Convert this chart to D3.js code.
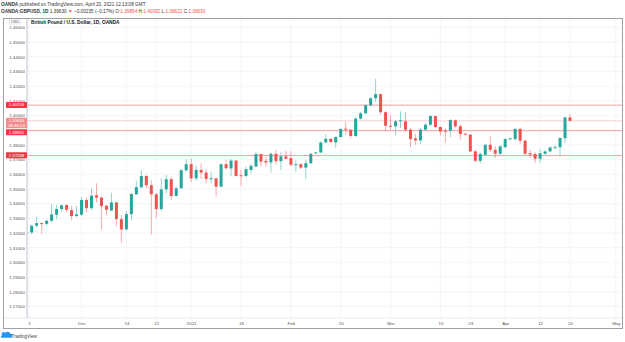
<!DOCTYPE html>
<html><head><meta charset="utf-8">
<script src="https://cdn.jsdelivr.net/npm/d3@7/dist/d3.min.js"></script>
<style>
html,body{margin:0;padding:0;background:#fff;}
svg{display:block;font-family:"Liberation Sans",Arial,sans-serif;}
</style></head>
<body><svg id="c" width="625" height="342"></svg>
<script>
// ---- data (daily OHLC, GBP/USD, OANDA) ----
const opens = [1.3198,1.3203,1.3249,1.3267,1.3262,1.3283,1.3324,1.3363,1.3390,1.3356,
1.3315,1.3324,1.3424,1.3369,1.3456,1.3442,1.3385,1.3353,1.3408,1.3294,
1.3224,1.3328,1.3463,1.3511,1.3588,1.3525,1.3463,1.3363,1.3497,1.3566,
1.3452,1.3504,1.3627,1.3668,1.3572,1.3629,1.3611,1.3566,1.3572,1.3515,
1.3668,1.3639,1.3693,1.3593,1.3588,1.3629,1.3652,1.3737,1.3691,1.3680,
1.3739,1.3689,1.3721,1.3709,1.3664,1.3668,1.3645,1.3675,1.3741,1.3748,
1.3816,1.3841,1.3816,1.3853,1.3910,1.3903,1.3860,1.3978,1.4015,1.4069,
1.4117,1.4145,1.4022,1.3930,1.3926,1.3963,1.3960,1.3903,1.3844,1.3830,
1.3903,1.3937,1.3996,1.3921,1.3896,1.3896,1.3967,1.3926,1.3876,1.3869,
1.3755,1.3691,1.3732,1.3800,1.3766,1.3739,1.3784,1.3839,1.3839,1.3908,
1.3828,1.3743,1.3737,1.3705,1.3739,1.3755,1.3782,1.3784,1.3846,1.39864];
const highs = [1.3212,1.3258,1.3312,1.3268,1.3292,1.3397,1.3390,1.3395,1.3395,1.3383,
1.3383,1.3445,1.3440,1.3504,1.3538,1.3442,1.3390,1.3474,1.3410,1.3322,
1.3349,1.3470,1.3556,1.3627,1.3593,1.3558,1.3470,1.3572,1.3595,1.3584,
1.3515,1.3634,1.3700,1.3705,1.3659,1.3673,1.3636,1.3618,1.3575,1.3670,
1.3698,1.3702,1.3695,1.3629,1.3652,1.3670,1.3753,1.3740,1.3714,1.3748,
1.3762,1.3750,1.3759,1.3759,1.3698,1.3675,1.3698,1.3743,1.3752,1.3825,
1.3869,1.3843,1.3857,1.3912,1.3955,1.3905,1.3992,1.4024,1.4074,1.4126,
1.4250,1.4147,1.4028,1.4001,1.3971,1.4028,1.4024,1.3914,1.3873,1.3914,
1.3949,1.4001,1.4001,1.3926,1.3914,1.3974,1.3971,1.3937,1.3880,1.3873,
1.3766,1.3750,1.3805,1.3857,1.3789,1.3800,1.3846,1.3850,1.3914,1.3919,
1.3835,1.3766,1.3750,1.3771,1.3766,1.3789,1.3800,1.3851,1.3994,1.40092];
const lows = [1.3190,1.3189,1.3240,1.3194,1.3249,1.3271,1.3294,1.3344,1.3340,1.3285,
1.3308,1.3317,1.3340,1.3356,1.3408,1.3224,1.3319,1.3351,1.3246,1.3135,
1.3219,1.3287,1.3458,1.3504,1.3504,1.3189,1.3303,1.3349,1.3470,1.3424,
1.3447,1.3499,1.3618,1.3545,1.3554,1.3568,1.3538,1.3538,1.3447,1.3511,
1.3629,1.3588,1.3584,1.3520,1.3579,1.3607,1.3648,1.3652,1.3652,1.3611,
1.3666,1.3629,1.3702,1.3657,1.3618,1.3634,1.3566,1.3670,1.3736,1.3743,
1.3812,1.3812,1.3778,1.3848,1.3869,1.3846,1.3851,1.3971,1.4006,1.4063,
1.4090,1.4005,1.3892,1.3903,1.3864,1.3914,1.3891,1.3782,1.3800,1.3805,
1.3896,1.3930,1.3914,1.3864,1.3812,1.3853,1.3914,1.3835,1.3862,1.3752,
1.3682,1.3675,1.3727,1.3750,1.3709,1.3732,1.3778,1.3834,1.3828,1.3805,
1.3732,1.3709,1.3675,1.3675,1.3732,1.3750,1.3773,1.3721,1.3812,1.39622];
const closes = [1.3205,1.3249,1.3267,1.3262,1.3283,1.3326,1.3363,1.3388,1.3358,1.3315,
1.3326,1.3424,1.3369,1.3454,1.3440,1.3383,1.3358,1.3408,1.3294,1.3224,
1.3328,1.3465,1.3511,1.3588,1.3525,1.3463,1.3363,1.3497,1.3566,1.3452,
1.3504,1.3627,1.3668,1.3572,1.3629,1.3611,1.3568,1.3572,1.3515,1.3668,
1.3641,1.3693,1.3588,1.3586,1.3634,1.3657,1.3737,1.3686,1.3680,1.3739,
1.3689,1.3721,1.3705,1.3664,1.3668,1.3645,1.3675,1.3739,1.3748,1.3816,
1.3841,1.3819,1.3853,1.3908,1.3903,1.3860,1.3978,1.4015,1.4069,1.4117,
1.4145,1.4022,1.3930,1.3924,1.3960,1.3967,1.3903,1.3839,1.3830,1.3903,
1.3937,1.3996,1.3921,1.3891,1.3891,1.3969,1.3926,1.3873,1.3869,1.3755,
1.3691,1.3737,1.3800,1.3766,1.3739,1.3789,1.3839,1.3844,1.3908,1.3828,
1.3739,1.3734,1.3705,1.3743,1.3755,1.3782,1.3784,1.3846,1.39865,1.39630];

const priceTicks = [1.27,1.28,1.29,1.30,1.31,1.32,1.33,1.34,1.35,1.36,1.37,1.38,1.39,1.40,1.41,1.42,1.43,1.44,1.45,1.46];
const timeTickIndex = [0.45,11,20,26,33,43,53,63,73,83,89,96,103,109,118.2];
const timeTickLabels = ["1","Dec","14","22","2021","18","Feb","15","Mar","15","23","Apr","12","20","May"];
const levelLines = [1.40703,1.38962,1.37268];
const lastPrice = 1.39630;
const countdown = "08:46:53";

// ---- layout ----
const svg = d3.select("#c");
const plotL = 27, plotR = 622, plotT = 18.5, plotB = 318;
const x = d3.scaleLinear().domain([0,109]).range([26.7,570]);
const y = d3.scaleLinear().domain([1.27,1.46]).range([306.4,27.3]);
const GREEN = "#26a69a", RED = "#ef5350";
const candles = opens.map((o,i)=>({i,o,h:highs[i],l:lows[i],c:closes[i]}));

// header
const hdr = svg.append("g").attr("font-size",4.7).attr("fill","#333");
const t1 = hdr.append("text").attr("x",1).attr("y",5.5);
t1.append("tspan").attr("font-weight","bold").text("OANDA");
t1.append("tspan").text(" published on TradingView.com, April 20, 2021 12:13:08 GMT");
const t2 = hdr.append("text").attr("x",1).attr("y",12.5);
t2.append("tspan").attr("font-weight","bold").text("OANDA:GBPUSD, 1D");
t2.append("tspan").text("  1.39630 ");
t2.append("tspan").attr("fill",RED).text("▼");
t2.append("tspan").text(" −0.00235 (−0.17%) O:");
t2.append("tspan").attr("fill",RED).text("1.39864");
t2.append("tspan").text(" H:");
t2.append("tspan").attr("fill",RED).text("1.40092");
t2.append("tspan").text(" L:");
t2.append("tspan").attr("fill",RED).text("1.39622");
t2.append("tspan").text(" C:");
t2.append("tspan").attr("fill",RED).text("1.39630");

// clip
svg.append("clipPath").attr("id","plot").append("rect")
  .attr("x",plotL+0.5).attr("y",plotT).attr("width",plotR-plotL-0.5).attr("height",plotB-plotT);

// grid
const grid = svg.append("g").attr("clip-path","url(#plot)");
grid.selectAll("line.h").data(priceTicks).join("line")
  .attr("x1",plotL).attr("x2",plotR).attr("y1",d=>y(d)).attr("y2",d=>y(d))
  .attr("stroke","#f0f3fa").attr("stroke-width",0.8);
grid.selectAll("line.v").data(timeTickIndex).join("line")
  .attr("x1",d=>x(d)).attr("x2",d=>x(d)).attr("y1",plotT).attr("y2",plotB)
  .attr("stroke","#f0f3fa").attr("stroke-width",0.8);

// level lines
const plot = svg.append("g").attr("clip-path","url(#plot)");
plot.append("line").attr("x1",plotL).attr("x2",plotR).attr("y1",y(lastPrice)).attr("y2",y(lastPrice))
  .attr("stroke","#f9c4c4").attr("stroke-width",0.8);
plot.selectAll("line.lvl").data(levelLines).join("line")
  .attr("x1",plotL).attr("x2",plotR).attr("y1",d=>y(d)).attr("y2",d=>y(d))
  .attr("stroke","#f5a09f").attr("stroke-width",1);

// candles
const cg = plot.selectAll("g.cd").data(candles).join("g");
cg.append("line")
  .attr("x1",d=>x(d.i)).attr("x2",d=>x(d.i))
  .attr("y1",d=>y(d.h)).attr("y2",d=>y(d.l))
  .attr("stroke",d=>d.c>=d.o?GREEN:RED).attr("stroke-opacity",0.55).attr("stroke-width",0.9);
cg.append("rect")
  .attr("x",d=>x(d.i)-1.5).attr("width",3)
  .attr("y",d=>y(Math.max(d.o,d.c)))
  .attr("height",d=>Math.max(1,Math.abs(y(d.o)-y(d.c))))
  .attr("fill",d=>d.c>=d.o?GREEN:RED);

// title
svg.append("text").attr("x",31).attr("y",24).attr("font-size",4.8).attr("font-weight","bold")
  .attr("fill","#131722").text("British Pound / U.S. Dollar, 1D, OANDA");

// axis price label boxes (computed first so covered tick labels can be hidden)
const labels = [];
labels.push({v:levelLines[0], lines:[d3.format(".5f")(levelLines[0])], fill:"#f23645"});
labels.push({v:lastPrice, lines:[d3.format(".5f")(lastPrice), countdown], fill:"#f58a8c"});
labels.push({v:levelLines[1], lines:[d3.format(".5f")(levelLines[1])], fill:"#f23645"});
labels.push({v:levelLines[2], lines:[d3.format(".5f")(levelLines[2])], fill:"#f23645"});
let prevBottom = -1e9;
labels.forEach(L=>{
  L.h = L.lines.length===1 ? 6 : 10.6;
  let top = y(L.v) - 3.2;
  if (top < prevBottom + 1) top = prevBottom + 1;
  L.top = top;
  prevBottom = top + L.h;
});
const covered = v => labels.some(L => y(v) > L.top - 0.5 && y(v) < L.top + L.h + 0.5);

// price axis
const pa = svg.append("g").attr("transform",`translate(${plotL-1},0)`)
  .call(d3.axisLeft(y).tickValues(priceTicks.filter(v=>!covered(v))).tickSize(0).tickPadding(1).tickFormat(d3.format(".5f")));
pa.select(".domain").remove();
pa.selectAll("text").attr("font-size",4.4).attr("fill","#555").attr("font-family","Liberation Sans, Arial, sans-serif");

// USD badge
svg.append("rect").attr("x",9.5).attr("y",19).attr("width",11).attr("height",5)
  .attr("fill","#fff").attr("stroke","#c8cad0").attr("stroke-width",0.5);
svg.append("text").attr("x",15).attr("y",22.6).attr("text-anchor","middle")
  .attr("font-size",3.8).attr("fill","#555").text("USD");

// time axis
const ta = svg.append("g").attr("transform",`translate(0,${plotB})`)
  .call(d3.axisBottom(x).tickValues(timeTickIndex).tickSize(0).tickPadding(3.5)
    .tickFormat((d,i)=>timeTickLabels[i]));
ta.select(".domain").remove();
ta.selectAll("text").attr("font-size",4.4).attr("fill","#555").attr("font-family","Liberation Sans, Arial, sans-serif");

// frame and separators
svg.append("line").attr("x1",plotL).attr("x2",plotL).attr("y1",plotT).attr("y2",plotB)
  .attr("stroke","#b2b5be").attr("stroke-width",0.8);
svg.append("line").attr("x1",3.5).attr("x2",622.5).attr("y1",plotB).attr("y2",plotB)
  .attr("stroke","#e0e3eb").attr("stroke-width",0.8);
svg.append("rect").attr("x",3.5).attr("y",plotT).attr("width",619).attr("height",328.5-plotT)
  .attr("fill","none").attr("stroke","#9598a1").attr("stroke-width",0.9);

// draw boxes
labels.forEach(L=>{
  svg.append("rect").attr("x",6).attr("y",L.top).attr("width",21).attr("height",L.h)
    .attr("rx",0.6).attr("fill",L.fill);
  L.lines.forEach((s,k)=>{
    svg.append("text").attr("x",16.5).attr("y",L.top+4.5+k*4.6).attr("text-anchor","middle")
      .attr("font-size",4.3).attr("fill","#fff").text(s);
  });
});

// TradingView logo
const lg = svg.append("g");
lg.append("path").attr("d","M2,337.8 h8.2 a2,2 0 0 0 0.2,-4 a2.8,2.8 0 0 0 -5,-0.8 a1.9,1.9 0 0 0 -3.4,2.4 a1.2,1.2 0 0 0 0,2.4 z")
  .attr("fill","#2196f3");
lg.append("text").attr("x",11.5).attr("y",337.6).attr("font-size",4.6).attr("fill","#444").text("TradingView");
</script></body></html>
